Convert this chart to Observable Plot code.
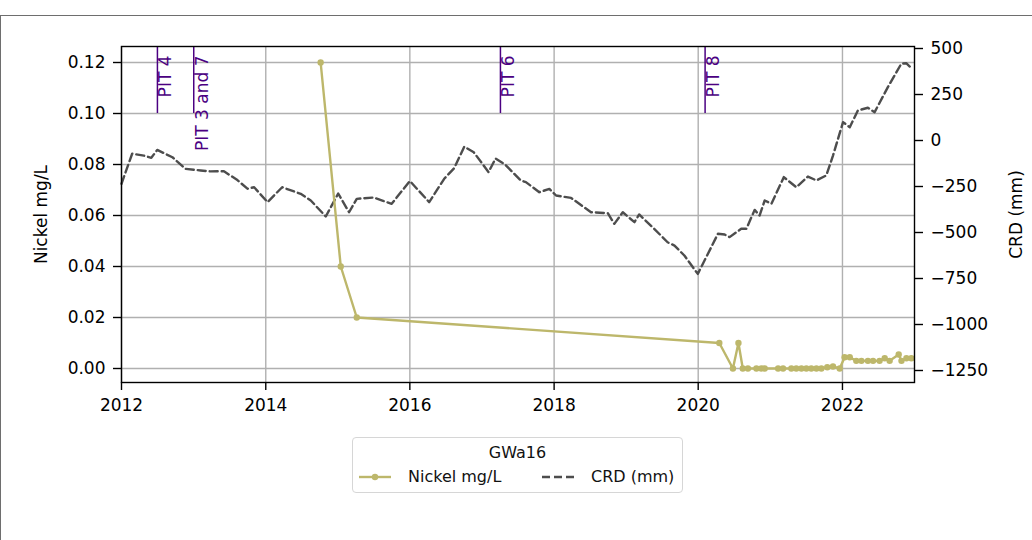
<!DOCTYPE html>
<html>
<head>
<meta charset="utf-8">
<script src="https://cdn.jsdelivr.net/npm/d3@7"></script>
<script src="https://cdn.jsdelivr.net/npm/@observablehq/plot@0.6"></script>
<style>
  html, body { margin: 0; padding: 0; background: #fff; overflow: hidden; }
  #wrap { position: relative; width: 1032px; height: 540px; font-family: "DejaVu Sans", sans-serif; }
  #border { position: absolute; left: 0; top: 15px; width: 1100px; height: 700px; border: 1px solid #6e6e6e; box-sizing: border-box; }
  #chart { position: absolute; left: 0; top: 0; }
  #legend { position: absolute; left: 352px; top: 437px; width: 331px; height: 56px; box-sizing: border-box;
            border: 1px solid #d6d6d6; border-radius: 4px; background: #fff; font-size: 16px; color: #111; }
  #legend .title { position: absolute; left: 0; right: 0; top: 5px; text-align: center; }
  #legend .item { position: absolute; top: 29px; display: flex; align-items: center; }
  #legend svg { margin-right: 16px; }
</style>
</head>
<body>
<div id="wrap">
  <div id="border"></div>
  <div id="chart"></div>
  <div id="legend">
    <div class="title">GWa16</div>
    <div class="item" style="left:5px"><svg width="34" height="12"><line x1="1" x2="33" y1="6" y2="6" stroke="#bdb76b" stroke-width="2.4"/><circle cx="17" cy="6" r="3.2" fill="#bdb76b"/></svg><span>Nickel mg/L</span></div>
    <div class="item" style="left:188px"><svg width="34" height="12"><line x1="1" x2="33" y1="6" y2="6" stroke="#4d4d4d" stroke-width="2.4" stroke-dasharray="8,4"/></svg><span>CRD (mm)</span></div>
  </div>
</div>
<script>
// ---- data ----
const crdDates = ["2012-01-01","2012-02-24","2012-04-23","2012-05-31","2012-06-30","2012-09-15","2012-11-20",
  "2013-02-05","2013-03-28","2013-06-03","2013-08-10","2013-09-30","2013-11-03","2014-01-10","2014-03-25",
  "2014-06-27","2014-08-17","2014-11-01","2015-01-03","2015-02-27","2015-04-07","2015-07-01","2015-10-01",
  "2016-01-01","2016-04-08","2016-06-23","2016-08-13","2016-10-03","2016-11-20","2017-02-03","2017-03-10",
  "2017-04-27","2017-07-16","2017-08-11","2017-10-18","2017-12-08","2018-01-11","2018-03-28","2018-07-07",
  "2018-09-30","2018-11-02","2018-12-15","2019-02-12","2019-03-08","2019-05-23","2019-07-30","2019-09-03",
  "2019-10-23","2019-12-30","2020-03-07","2020-04-10","2020-05-14","2020-06-08","2020-08-06","2020-09-01",
  "2020-10-13","2020-11-07","2020-12-03","2021-01-06","2021-03-10","2021-05-12","2021-07-10","2021-08-22",
  "2021-10-11","2021-11-14","2022-01-04","2022-02-07","2022-03-20","2022-05-10","2022-06-13","2022-08-19",
  "2022-10-26","2022-11-20","2022-12-08"];
const crdValues = [-235,-72,-82,-94,-51,-91,-154,
  -163,-168,-167,-215,-262,-254,-335,-254,
  -290,-326,-413,-288,-390,-317,-310,-344,
  -220,-335,-208,-150,-33,-64,-172,-98,
  -130,-217,-226,-281,-263,-299,-312,-390,
  -395,-453,-390,-444,-402,-480,-553,-571,
  -625,-725,-580,-507,-511,-525,-480,-480,
  -377,-408,-326,-344,-199,-254,-196,-217,
  -190,-82,100,72,163,178,154,290,
  417,420,402];

const nickelDates = ["2014-10-06","2015-01-16","2015-04-07","2020-04-17","2020-06-25","2020-07-23","2020-08-14",
  "2020-09-09","2020-10-22","2020-11-16","2020-12-03","2021-02-09","2021-03-06","2021-04-17","2021-05-12",
  "2021-06-07","2021-07-02","2021-07-27","2021-08-22","2021-09-16","2021-10-16","2021-11-14","2021-12-18",
  "2022-01-12","2022-02-07","2022-03-12","2022-04-07","2022-05-10","2022-06-05","2022-07-08","2022-08-03",
  "2022-08-28","2022-10-13","2022-10-27","2022-11-21","2022-12-16"];
const nickelValues = [0.12,0.04,0.02,0.01,0.0,0.01,0.0,
  0.0,0.0,0.0,0.0,0.0,0.0,0.0,0.0,
  0.0,0.0,0.0,0.0,0.0,0.0005,0.0008,0.0,
  0.0044,0.0044,0.003,0.003,0.003,0.003,0.003,0.004,
  0.003,0.0055,0.003,0.004,0.004];

const pitDates = ["2012-07-01","2013-01-01","2017-04-04","2020-02-05"];
const pitLabels = ["PIT 4","PIT 3 and 7","PIT 6","PIT 8"];

const nickelTicks = [0, 0.02, 0.04, 0.06, 0.08, 0.10, 0.12];
const crdTicks = [-1250, -1000, -750, -500, -250, 0, 250, 500];
const yearTicks = ["2012","2014","2016","2018","2020","2022"];

// ---- scales ----
const parse = d3.utcParse("%Y-%m-%d");
const niDomain = [-0.00549, 0.126275];
const crdDomain = [-1315.2, 510.9];
const toNi = d3.scaleLinear().domain(crdDomain).range(niDomain);

const crd = crdDates.map((d, i) => ({date: parse(d), v: crdValues[i]}));
const nickel = nickelDates.map((d, i) => ({date: parse(d), v: nickelValues[i]}));
const pits = pitDates.map((d, i) => ({date: parse(d), label: pitLabels[i]}));
const years = yearTicks.map(y => d3.utcParse("%Y")(y));

const fmtCrd = v => { const r = Math.round(toNi.invert(v)); return r < 0 ? "\u2212" + Math.abs(r) : String(r); };

const grid = "#b0b0b0";
const plot = Plot.plot({
  width: 1032,
  height: 430,
  marginLeft: 121,
  marginRight: 118,
  marginTop: 46,
  marginBottom: 48,
  style: {fontFamily: "DejaVu Sans, sans-serif", fontSize: "17px", color: "#000", background: "transparent"},
  x: {type: "utc", domain: [parse("2012-01-01"), parse("2023-01-01")]},
  y: {domain: niDomain},
  marks: [
    Plot.gridX(years, {stroke: grid, strokeOpacity: 1, strokeWidth: 1.4}),
    Plot.gridY(nickelTicks, {stroke: grid, strokeOpacity: 1, strokeWidth: 1.4}),
    Plot.ruleX(pits, {x: "date", y1: 0.10, y2: niDomain[1], stroke: "#4b0082", strokeWidth: 1.5}),
    Plot.text(pits, {x: "date", y: niDomain[1], text: "label", rotate: -90, textAnchor: "end", lineAnchor: "bottom",
      dx: 14, dy: 9, fill: "#4b0082", fontSize: 17}),
    Plot.line(crd, {x: "date", y: d => toNi(d.v), stroke: "#4d4d4d", strokeWidth: 2.4, strokeDasharray: "8,4"}),
    Plot.line(nickel, {x: "date", y: "v", stroke: "#bdb76b", strokeWidth: 2.4}),
    Plot.dot(nickel, {x: "date", y: "v", r: 3.2, fill: "#bdb76b", stroke: "none"}),
    Plot.frame({stroke: "#000", strokeWidth: 1.4}),
    Plot.axisX({ticks: years, tickFormat: d3.utcFormat("%Y"), tickSize: 8, tickPadding: 8, strokeWidth: 1.4, label: null}),
    Plot.axisY({ticks: nickelTicks, tickFormat: d3.format(".2f"), anchor: "left", tickSize: 8, tickPadding: 8,
      strokeWidth: 1.4, label: "Nickel mg/L", labelAnchor: "center", labelArrow: "none", labelOffset: 87}),
    Plot.axisY({ticks: crdTicks.map(c => toNi(c)), tickFormat: fmtCrd, anchor: "right", tickSize: 8, tickPadding: 8,
      strokeWidth: 1.4, label: "CRD (mm)", labelAnchor: "center", labelArrow: "none", labelOffset: 107})
  ]
});
document.getElementById("chart").appendChild(plot);
</script>
</body>
</html>
